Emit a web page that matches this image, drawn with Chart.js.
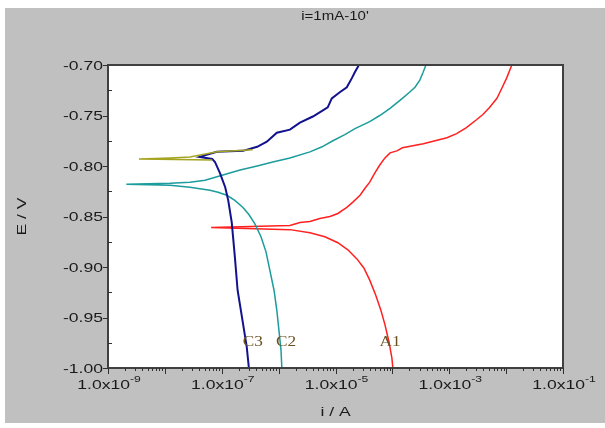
<!DOCTYPE html>
<html>
<head>
<meta charset="utf-8">
<script src="https://cdn.jsdelivr.net/npm/chart.js@4.4.0/dist/chart.umd.min.js"></script>
<style>
  html, body { margin: 0; padding: 0; background: #fff; }
</style>
</head>
<body>
<canvas id="tafel" width="605" height="428"></canvas>
<script>
// values: current i (A) and potential E (V)
// each curve: cathodic branch bottom -> E corr, then anodic branch upward
const a1Current = [1.02e-4, 9.8e-5, 8.7e-5, 7.4e-5, 6.3e-5, 5.1e-5, 4.0e-5, 3.15e-5, 2.38e-5, 1.65e-5, 1.1e-5, 6.5e-6,
                   3.55e-6, 1.58e-6, 6.5e-8,
                   1.58e-6, 2.37e-6, 3.55e-6, 5.3e-6, 8.0e-6, 1.1e-5, 1.58e-5, 2.0e-5, 2.7e-5, 3.3e-5, 4.0e-5,
                   4.9e-5, 6.0e-5, 7.4e-5, 9.1e-5, 1.2e-4, 1.5e-4, 3.5e-4, 9.1e-4, 1.35e-3, 2.0e-3, 3.05e-3,
                   3.9e-3, 5.1e-3, 6.9e-3, 8.4e-3, 1.02e-2, 1.26e-2];
const a1Potential = [-1.000, -0.990, -0.974, -0.957, -0.943, -0.928, -0.913, -0.901, -0.892, -0.883, -0.876, -0.870,
                     -0.866, -0.863, -0.861,
                     -0.859, -0.856, -0.855, -0.852, -0.850, -0.847, -0.841, -0.836, -0.829, -0.822, -0.816,
                     -0.807, -0.799, -0.792, -0.787, -0.785, -0.782, -0.778, -0.772, -0.768, -0.762, -0.754,
                     -0.749, -0.742, -0.733, -0.723, -0.713, -0.700];

const c2Current = [1.14e-6, 1.10e-6, 1.01e-6, 9.3e-7, 8.3e-7, 7.0e-7, 6.0e-7, 4.9e-7, 3.8e-7, 3.0e-7, 2.36e-7, 1.7e-7,
                   1.23e-7, 8.6e-8, 6.2e-8, 2.76e-8, 1.23e-8, 2.1e-9,
                   1.23e-8, 2.76e-8, 5.1e-8, 1.05e-7, 2.1e-7, 4.2e-7, 7.9e-7, 1.58e-6, 3.55e-6, 5.8e-6, 9.0e-6,
                   1.46e-5, 2.2e-5, 4.0e-5, 6.0e-5, 9.1e-5, 1.5e-4, 2.0e-4, 2.5e-4, 3.04e-4, 3.43e-4, 3.9e-4];
const c2Potential = [-1.000, -0.982, -0.962, -0.943, -0.923, -0.903, -0.885, -0.870, -0.857, -0.848, -0.841, -0.834,
                     -0.829, -0.826, -0.824, -0.821, -0.819, -0.818,
                     -0.817, -0.816, -0.814, -0.809, -0.804, -0.800, -0.796, -0.792, -0.786, -0.781, -0.775,
                     -0.769, -0.763, -0.756, -0.750, -0.743, -0.733, -0.727, -0.722, -0.715, -0.708, -0.700];

const c3Current = [3.0e-7, 2.75e-7, 2.35e-7, 1.9e-7, 1.7e-7, 1.5e-7, 1.3e-7, 1.15e-7, 9.3e-8, 7.6e-8, 6.8e-8,
                   4.1e-8, 8.2e-8, 2.36e-7, 4.2e-7, 6.2e-7, 9.3e-7, 1.58e-6, 2.37e-6, 4.0e-6, 6.0e-6, 7.3e-6,
                   8.6e-6, 1.19e-5, 1.58e-5, 1.94e-5, 2.2e-5, 2.58e-5];
const c3Potential = [-1.000, -0.979, -0.955, -0.923, -0.890, -0.856, -0.834, -0.821, -0.807, -0.796, -0.793,
                     -0.791, -0.786, -0.785, -0.781, -0.776, -0.767, -0.764, -0.757, -0.751, -0.745, -0.742,
                     -0.733, -0.727, -0.722, -0.713, -0.707, -0.700];

const oliveCurrent = [6.8e-8, 3.5e-9, 1.26e-8, 2.75e-8, 8.3e-8, 3.5e-7];
const olivePotential = [-0.794, -0.793, -0.792, -0.791, -0.786, -0.784];

// curve names written in the plot
const curveNames = ['C3', 'C2', 'A1'];
const nameCurrent = [3.5e-7, 1.35e-6, 9.1e-5];
const namePotential = [-0.974, -0.974, -0.974];

// axis ticks
const xTickValues = [1e-9, 1e-7, 1e-5, 1e-3, 1e-1];
const xTickExponents = ['-9', '-7', '-5', '-3', '-1'];
const yTickValues = [-0.70, -0.75, -0.80, -0.85, -0.90, -0.95, -1.00];
const yTickLabels = ['-0.70', '-0.75', '-0.80', '-0.85', '-0.90', '-0.95', '-1.00'];

function pts(xs, ys) {
    return xs.map((x, k) => ({ x: x, y: ys[k] }));
}

const SX = 1.35; // the original fonts are drawn wide

function wideText(ctx, txt, x, y, align, sx) {
    ctx.save();
    ctx.translate(x, y);
    ctx.scale(sx, 1);
    ctx.textAlign = align;
    ctx.fillText(txt, 0, 0);
    ctx.restore();
}

const frame = {
    id: 'frame',
    beforeDraw(chart) {
        const ctx = chart.ctx, a = chart.chartArea;
        ctx.save();
        ctx.fillStyle = '#c0c0c0';
        ctx.fillRect(5, 8, 600, 415);
        ctx.fillStyle = '#ffffff';
        ctx.fillRect(a.left, a.top, a.right - a.left, a.bottom - a.top);
        ctx.restore();
    },
    afterDraw(chart) {
        const ctx = chart.ctx, a = chart.chartArea;
        const xs = chart.scales.x, ys = chart.scales.y;
        ctx.save();

        // box
        ctx.strokeStyle = '#404040';
        ctx.lineWidth = 2;
        ctx.strokeRect(a.left, a.top, a.right - a.left, a.bottom - a.top);

        // x ticks (decades long, minor short)
        ctx.lineWidth = 1;
        ctx.strokeStyle = '#303030';
        ctx.beginPath();
        for (let d = -9; d <= -1; d++) {
            const px = Math.round(xs.getPixelForValue(Math.pow(10, d))) + 0.5;
            ctx.moveTo(px, a.bottom);
            ctx.lineTo(px, a.bottom + 6);
            if (d < -1) {
                for (let m = 2; m <= 9; m++) {
                    const mx = Math.round(xs.getPixelForValue(m * Math.pow(10, d))) + 0.5;
                    ctx.moveTo(mx, a.bottom);
                    ctx.lineTo(mx, a.bottom + 3);
                }
            }
        }
        // y ticks: majors outside, minors inside
        yTickValues.forEach((v, k) => {
            const py = Math.round(ys.getPixelForValue(v)) + 0.5;
            ctx.moveTo(a.left - 5, py);
            ctx.lineTo(a.left, py);
            if (k < yTickValues.length - 1) {
                const my = Math.round(ys.getPixelForValue(v - 0.025)) + 0.5;
                ctx.moveTo(a.left, my);
                ctx.lineTo(a.left + 4, my);
            }
        });
        ctx.stroke();

        // tick labels
        ctx.fillStyle = '#1a1a1a';
        ctx.font = '13px "Liberation Sans", Arial, sans-serif';
        ctx.textBaseline = 'middle';
        yTickValues.forEach((v, k) => {
            wideText(ctx, yTickLabels[k], a.left - 5, ys.getPixelForValue(v) + 1, 'right', SX);
        });

        ctx.textBaseline = 'alphabetic';
        xTickValues.forEach((v, k) => {
            const px = xs.getPixelForValue(v);
            ctx.font = '13px "Liberation Sans", Arial, sans-serif';
            const w1 = ctx.measureText('1.0x10').width * SX;
            ctx.font = '9px "Liberation Sans", Arial, sans-serif';
            const w2 = ctx.measureText(xTickExponents[k]).width * SX;
            const start = px - (w1 + w2) / 2 + 1;
            ctx.font = '13px "Liberation Sans", Arial, sans-serif';
            wideText(ctx, '1.0x10', start, a.bottom + 21, 'left', SX);
            ctx.font = '9px "Liberation Sans", Arial, sans-serif';
            wideText(ctx, xTickExponents[k], start + w1, a.bottom + 14, 'left', SX);
        });

        // axis titles and chart title
        ctx.font = '13px "Liberation Sans", Arial, sans-serif';
        ctx.textBaseline = 'middle';
        wideText(ctx, 'i / A', (a.left + a.right) / 2, 412, 'center', SX);
        ctx.save();
        ctx.translate(22, (a.top + a.bottom) / 2);
        ctx.rotate(-Math.PI / 2);
        wideText(ctx, 'E / V', 0, 0, 'center', SX);
        ctx.restore();
        ctx.font = '12px "Liberation Sans", Arial, sans-serif';
        wideText(ctx, "i=1mA-10'", 335, 17, 'center', 1.25);

        // curve names
        ctx.font = '15px "Liberation Serif", "Times New Roman", serif';
        ctx.fillStyle = '#6b5020';
        curveNames.forEach((t, k) => {
            wideText(ctx, t, xs.getPixelForValue(nameCurrent[k]), ys.getPixelForValue(namePotential[k]), 'center', 1.15);
        });
        ctx.restore();
    }
};

const ctx = document.getElementById('tafel').getContext('2d');
new Chart(ctx, {
    type: 'scatter',
    data: {
        datasets: [
            {
                label: 'olive',
                data: pts(oliveCurrent, olivePotential),
                borderColor: '#a4a420',
                borderWidth: 1.5
            },
            {
                label: 'C3',
                data: pts(c3Current, c3Potential),
                borderColor: '#12128e',
                borderWidth: 2
            },
            {
                label: 'C2',
                data: pts(c2Current, c2Potential),
                borderColor: '#1c9c9c',
                borderWidth: 1.5
            },
            {
                label: 'A1',
                data: pts(a1Current, a1Potential),
                borderColor: '#ff2020',
                borderWidth: 1.5
            }
        ]
    },
    options: {
        responsive: false,
        animation: false,
        showLine: true,
        elements: {
            point: { radius: 0, hoverRadius: 0 },
            line: { tension: 0, fill: false }
        },
        layout: {
            padding: { left: 108, top: 65, right: 42, bottom: 60 }
        },
        plugins: {
            legend: { display: false },
            tooltip: { enabled: false }
        },
        scales: {
            x: {
                type: 'logarithmic',
                display: false,
                min: 1e-9,
                max: 1e-1
            },
            y: {
                type: 'linear',
                display: false,
                min: -1.00,
                max: -0.70
            }
        }
    },
    plugins: [frame]
});
</script>
</body>
</html>
